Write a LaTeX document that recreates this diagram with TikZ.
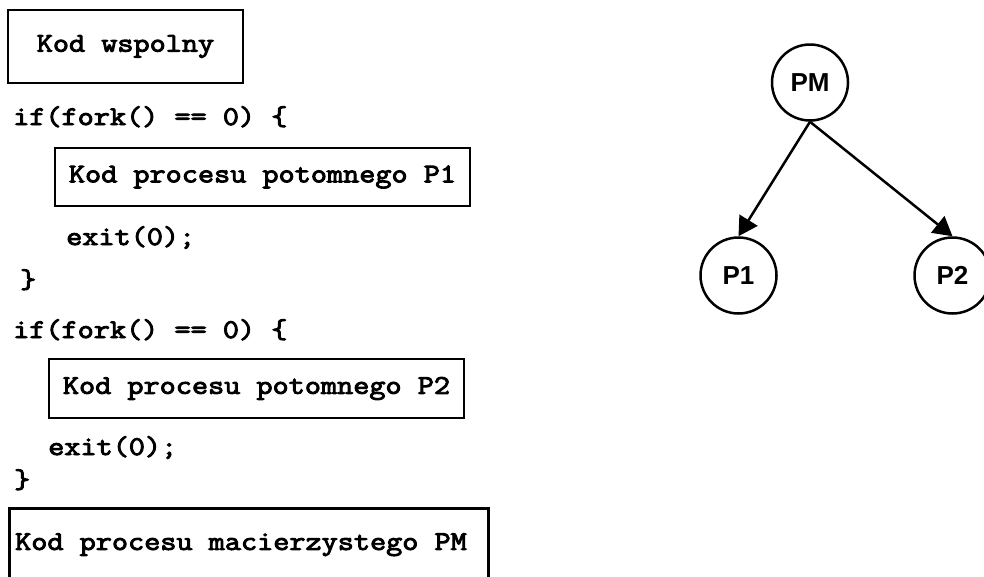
\documentclass[tikz,border=0pt]{standalone}
\usepackage{fontspec}
\newfontfamily\labelfont{Liberation Sans}
\newfontfamily\codefont[FakeStretch=1.16,FakeBold=3.5]{Latin Modern Mono}
\newcommand{\codefnt}{\codefont\fontsize{27}{30}\selectfont}
\usetikzlibrary{arrows.meta}
\begin{document}
\begin{tikzpicture}[x=1pt,y=-1pt,
  codebox/.style={draw, line width=2.5pt, inner sep=0pt, font=\codefnt},
  codeline/.style={anchor=base west, inner sep=0pt, font=\codefnt},
  proc/.style={draw, circle, line width=2.5pt, minimum size=76pt, inner sep=0pt, font=\labelfont\bfseries\fontsize{26}{30}\selectfont},
  fork/.style={line width=2.5pt, -{Triangle[length=19pt,width=21pt]}}]
\useasboundingbox (0,0) rectangle (984,576);
% left: code
\node[codebox, minimum width=235pt, minimum height=73pt] (wsp) at (125.5,46.5) {Kod wspolny};
\node[codeline] (if1) at (13,125) {if(fork() == 0) \{};
\node[codeline] (exit1) at (66,245) {exit(0);};
\node[codeline] (close1) at (20,288) {\}};
\node[codebox, minimum width=415pt, minimum height=58pt] (p1code) at (262.5,177) {Kod procesu potomnego P1};
\node[codeline] (if2) at (13,338) {if(fork() == 0) \{};
\node[codebox, minimum width=415pt, minimum height=59pt] (p2code) at (256.5,388.5) {Kod procesu potomnego P2};
\node[codeline] (exit2) at (48,455) {exit(0);};
\node[codeline] (close2) at (14,488) {\}};
\node[codebox, anchor=north west, minimum width=479pt, minimum height=73pt] (pmcode) at (8,507) {};
\node[codeline, anchor=west] (pmtext) at ([xshift=7pt]pmcode.west) {Kod procesu macierzystego PM};
% right: process tree
\node[proc] (PM) at (810,82.5) {PM};
\node[proc] (P1) at (738.5,275.5) {P1};
\node[proc] (P2) at (952.5,275.5) {P2};
\draw[fork] (PM.south) -- (P1.north);
\draw[fork] (PM.south) -- (P2.north);
\end{tikzpicture}
\end{document}
